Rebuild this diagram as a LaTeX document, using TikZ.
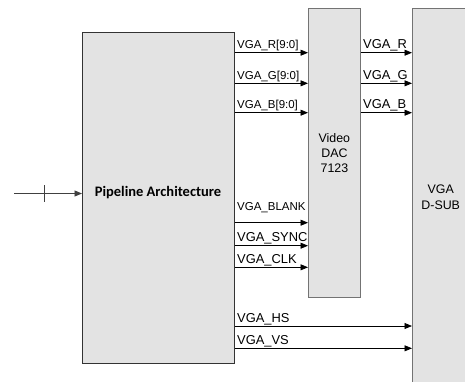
\documentclass[tikz,border=0pt]{standalone}
\usepackage{fontspec}
\setmainfont{Liberation Sans}
\newfontfamily\carlito{Carlito}
\usetikzlibrary{arrows.meta, positioning}

\tikzset{
    block/.style={draw=black!55, fill=black!11, line width=0.8pt, inner sep=0pt},
    sig/.style={-{Triangle[length=7.5pt,width=6pt]}, line width=0.8pt},
    lbl/.style={anchor=base west, inner sep=0pt, xshift=2pt, yshift=4pt, font=\fontsize{12.9}{15}\selectfont},
    lbls/.style={lbl, font=\fontsize{11.5}{14}\selectfont},
}

\begin{document}
\begin{tikzpicture}[x=1pt, y=-1pt]
    \clip (0,0) rectangle (465,381);

    % 1. Các khối
    \node[block, draw=black!80, anchor=north west, minimum width=152pt, minimum height=331pt] (pipe) at (82,32) {};
    \node[font=\carlito\bfseries\fontsize{14.5}{17}\selectfont] (pipetxt) at (158,193) {Pipeline Architecture};
    \node[block, anchor=north west, minimum width=52pt, minimum height=289pt, align=center, font=\fontsize{12.4}{15}\selectfont] (dac) at (308,8) {Video\\DAC\\7123};
    \node[block, anchor=north west, minimum width=80pt, minimum height=390pt] (dsub) at (412,8) {};
    \node[align=center, font=\fontsize{12.4}{16}\selectfont] (dsubtxt) at (440.7,197) {VGA\\D-SUB};

    % 2. Tín hiệu vào
    \coordinate (in) at (14,193.5);
    \draw[sig, draw=black!75] (in) -- (pipe.west |- in);
    \draw[line width=0.8pt, black!75] (44.5,185) -- (44.5,202);

    % 3. Pipeline -> DAC
    \foreach \yy/\txt in {52.7/VGA\_R[9:0], 83.3/VGA\_G[9:0], 112.7/VGA\_B[9:0]}
        \draw[sig] (pipe.east |- 0,\yy) -- (dac.west |- 0,\yy) node[pos=0, lbls] {\txt};
    \draw[sig] (pipe.east |- 0,222.7) -- (dac.west |- 0,222.7) node[pos=0, lbls, yshift=8pt] {VGA\_BLANK};
    \foreach \yy/\txt in {245.7/VGA\_SYNC, 267.3/VGA\_CLK}
        \draw[sig] (pipe.east |- 0,\yy) -- (dac.west |- 0,\yy) node[pos=0, lbl] {\txt};

    % 4. DAC -> D-SUB
    \foreach \yy/\txt in {52.7/VGA\_R, 83.3/VGA\_G, 112.7/VGA\_B}
        \draw[sig] (dac.east |- 0,\yy) -- (dsub.west |- 0,\yy) node[pos=0, lbl] {\txt};

    % 5. Pipeline -> D-SUB
    \foreach \yy/\txt in {326/VGA\_HS, 348.3/VGA\_VS}
        \draw[sig] (pipe.east |- 0,\yy) -- (dsub.west |- 0,\yy) node[pos=0, lbl] {\txt};

\end{tikzpicture}
\end{document}
